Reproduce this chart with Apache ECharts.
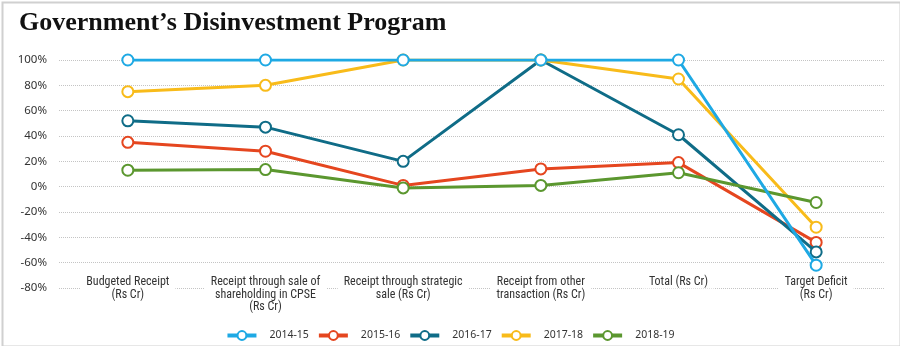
<!DOCTYPE html>
<html>
<head>
<meta charset="utf-8">
<script src="https://cdn.jsdelivr.net/npm/echarts@6/dist/echarts.min.js"></script>
<style>
html,body{margin:0;padding:0;background:#fff;}
#c{width:900px;height:346px;}
</style>
</head>
<body>
<div id="c"></div>
<script>
var categories = [
  'Budgeted Receipt\n(Rs Cr)',
  'Receipt through sale of\nshareholding in CPSE\n(Rs Cr)',
  'Receipt through strategic\nsale (Rs Cr)',
  'Receipt from other\ntransaction (Rs Cr)',
  'Total (Rs Cr)',
  'Target Deficit\n(Rs Cr)'
];
var seriesNames = ['2014-15', '2015-16', '2016-17', '2017-18', '2018-19'];
var v2014_15 = [100, 100, 100, 100, 100, -62];
var v2015_16 = [35, 28, 1, 14, 19, -44];
var v2016_17 = [52, 47, 20, 100, 41, -51.5];
var v2017_18 = [75, 80, 100, 100, 85, -32];
var v2018_19 = [13, 13.5, -1, 1, 11, -12.5];
var yTicks = [-80, -60, -40, -20, 0, 20, 40, 60, 80, 100];

var colors = ['#1ea9e4', '#e5461f', '#0f6c87', '#f8bb1a', '#5b972f'];
var zOrder = [6, 2, 3, 4, 5];
var allValues = [v2014_15, v2015_16, v2016_17, v2017_18, v2018_19];

var chart = echarts.init(document.getElementById('c'));
var series = seriesNames.map(function (name, i) {
  return {
    name: name,
    type: 'line',
    data: allValues[i],
    z: zOrder[i],
    symbol: 'emptyCircle',
    symbolSize: 11,
    showAllSymbol: true,
    lineStyle: { width: 3, color: colors[i] },
    itemStyle: { color: colors[i], borderWidth: 1.8, borderColor: colors[i] },
    emphasis: { disabled: true },
    animation: false
  };
});

chart.setOption({
  animation: false,
  color: colors,
  title: {
    text: 'Government\u2019s Disinvestment Program',
    left: 14,
    top: 5,
    textStyle: {
      fontFamily: '"Liberation Serif", "DejaVu Serif", serif',
      fontWeight: 'bold',
      fontSize: 26,
      color: '#111'
    }
  },
  graphic: [{
    type: 'rect',
    left: 0, top: 0,
    shape: { x: 0.5, y: 0.5, width: 898, height: 344 },
    style: { fill: 'none', stroke: '#d0d0d0', lineWidth: 2 },
    silent: true
  }],
  legend: {
    data: seriesNames,
    left: 'center',
    top: 325,
    itemWidth: 29,
    itemHeight: 11,
    itemGap: 8,
    lineStyle: { width: 4 },
    itemStyle: { borderWidth: 2 },
    textStyle: {
      fontFamily: '"Noto Sans", "Open Sans", sans-serif',
      fontSize: 10.5,
      color: '#333',
      padding: [0, 0, 0, 8]
    }
  },
  grid: { left: 59, right: 15, top: 60, bottom: 58, containLabel: false },
  xAxis: {
    type: 'category',
    data: categories,
    boundaryGap: true,
    axisLine: { show: false },
    axisTick: { show: false },
    axisLabel: {
      interval: 0,
      margin: -12,
      fontFamily: '"Liberation Sans Narrow", "Roboto Condensed", "Roboto", sans-serif',
      fontSize: 12,
      lineHeight: 12.5,
      color: '#333',
      backgroundColor: '#fff',
      padding: [0, 6, 0, 6]
    }
  },
  yAxis: {
    type: 'value',
    min: -80,
    max: 100,
    interval: 20,
    axisLine: { show: false },
    axisTick: { show: false },
    axisLabel: {
      margin: 12,
      fontFamily: '"Noto Sans", "Open Sans", sans-serif',
      fontSize: 11.5,
      color: '#333',
      formatter: function (v) { return v + '%'; }
    },
    splitLine: { lineStyle: { type: 'dotted', color: '#c4c4c4', width: 1 } }
  },
  series: series
});
</script>
</body>
</html>
